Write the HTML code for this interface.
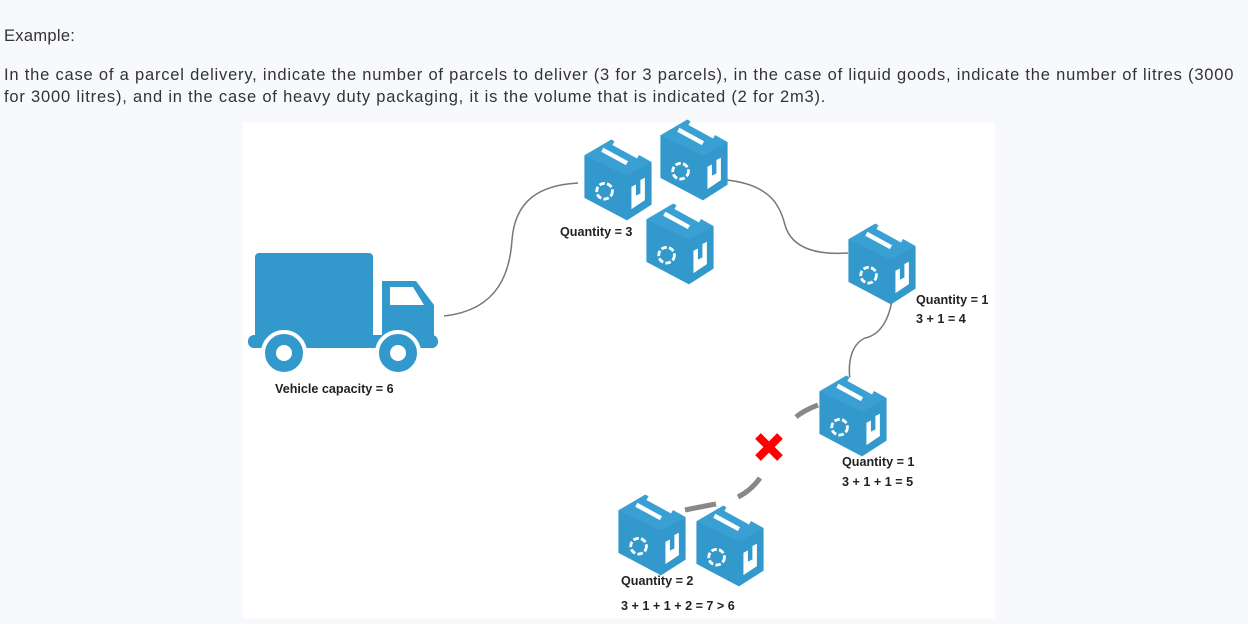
<!DOCTYPE html>
<html><head><style>
body{margin:0;width:1248px;height:624px;background:#f7f9fc;font-family:"Liberation Sans",sans-serif;color:#333;position:relative;overflow:hidden}
.t{position:absolute;left:4px;font-size:16.5px;line-height:22px;letter-spacing:0.8px;white-space:nowrap}
.l{position:absolute;font-size:12.6px;font-weight:bold;color:#222;font-family:"Liberation Sans",sans-serif}
</style></head><body>
<div class="t" style="top:25px;letter-spacing:0.3px">Example:</div>
<div class="t" style="top:64px">In the case of a parcel delivery, indicate the number of parcels to deliver (3 for 3 parcels), in the case of liquid goods, indicate the number of litres (3000<br>for 3000 litres), and in the case of heavy duty packaging, it is the volume that is indicated (2 for 2m3).</div>
<svg style="position:absolute;left:0;top:0" width="1248" height="624">
<defs>
<g id="bx" transform="scale(1.12)">
<polygon points="-6,-36 30,-16 30,22 8,36 -30,16 -30,-22" fill="#3399cc"/>
<polygon points="-6,-36 30,-16 8,-4 -30,-22" fill="#3aa0d4"/>
<line x1="-14" y1="-27" x2="8" y2="-15" stroke="#fff" stroke-width="4"/>
<line x1="-4" y1="-33" x2="18" y2="-21" stroke="#fff" stroke-width="4"/>
<circle cx="-12" cy="10" r="7" fill="none" stroke="#fff" stroke-width="2.5" stroke-dasharray="5 2"/>
<polygon points="12,6 12,26 24,18 24,-2 20,0 20,12 16,14 16,4" fill="#fff"/>
</g>
</defs>
<rect x="243" y="122" width="752" height="496" fill="#fff"/>
<g fill="none" stroke="#777" stroke-width="1.5">
<path d="M444 316 C500 310 510 270 512 240 C515 200 540 185 578 183"/>
<path d="M727 180 C770 185 780 205 785 225 C792 250 820 255 848 253"/>
<path d="M893 293 C890 320 880 335 865 338 C850 345 848 365 850 380"/>
</g>
<g fill="none" stroke="#888" stroke-width="5">
<path d="M818 405 C810 408 802 412 796 417"/>
<path d="M760 478 C755 485 748 492 738 497"/>
<path d="M685 510 C695 508 705 506 716 504"/>
</g>
<g stroke="#f00" stroke-width="8"><line x1="758" y1="436" x2="780" y2="458"/><line x1="780" y1="436" x2="758" y2="458"/></g>
<use href="#bx" x="618" y="180"/>
<use href="#bx" x="694" y="160"/>
<use href="#bx" x="680" y="244"/>
<use href="#bx" x="882" y="264"/>
<use href="#bx" x="853" y="416"/>
<use href="#bx" x="652" y="535"/>
<use href="#bx" x="730" y="546"/>
<g fill="#3399cc">
<rect x="255" y="253" width="118" height="95" rx="4"/>
<path d="M382 281 H416 L434 305 V348 H382 Z"/>
<rect x="248" y="335" width="190" height="13" rx="6"/>
<circle cx="284" cy="353" r="21" stroke="#fff" stroke-width="4"/>
<circle cx="398" cy="353" r="21" stroke="#fff" stroke-width="4"/>
</g>
<circle cx="284" cy="353" r="8" fill="#fff"/>
<circle cx="398" cy="353" r="8" fill="#fff"/>
<path d="M390 287 H413 L424 305 H390 Z" fill="#fff"/>
</svg>
<div class="l" style="left:275px;top:382px">Vehicle capacity = 6</div>
<div class="l" style="left:560px;top:225px">Quantity = 3</div>
<div class="l" style="left:916px;top:293px">Quantity = 1</div>
<div class="l" style="left:916px;top:312px">3 + 1 = 4</div>
<div class="l" style="left:842px;top:455px">Quantity = 1</div>
<div class="l" style="left:842px;top:475px">3 + 1 + 1 = 5</div>
<div class="l" style="left:621px;top:574px">Quantity = 2</div>
<div class="l" style="left:621px;top:599px">3 + 1 + 1 + 2 = 7 &gt; 6</div>
</body></html>
